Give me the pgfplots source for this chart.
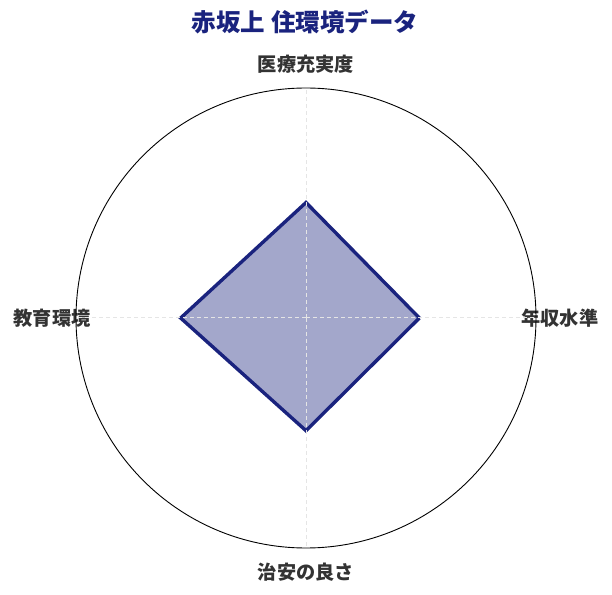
\documentclass[border=0pt]{standalone}
\usepackage{fontspec}
\setmainfont{Noto Sans CJK JP}
\usepackage{pgfplots}
\pgfplotsset{compat=1.18}
\usepgfplotslibrary{polar}
\definecolor{navy}{HTML}{1A237E}
\definecolor{lab}{HTML}{333333}
\begin{document}
\begin{tikzpicture}
\path (0,0) rectangle (612bp,595bp);
\node[font=\fontsize{24.5bp}{28bp}\selectfont\bfseries, text=navy] at (305bp,573bp) {赤坂上 住環境データ};
\begin{polaraxis}[
  at={(306bp,277bp)}, anchor=center,
  width=460bp, height=460bp, scale only axis,
  xmin=0, xmax=360, ymin=0, ymax=100,
  xtick={0,90,180,270}, xticklabels={},
  ytick=\empty,
  xmajorgrids, grid style={dash pattern=on 4bp off 3bp, color=black!10, line width=1bp},
  x axis line style={black, line width=0.9bp},
  y axis line style={draw=none},
  major tick length=0pt,
  axis on top, clip=false,
]
\addplot[draw=navy, line width=3.4bp, fill=navy, fill opacity=0.4, line join=miter]
  coordinates {(0,49.3) (90,50.2) (180,54.5) (270,49.0) (0,49.3)};
\begin{scope}[every node/.style={font=\fontsize{19.2bp}{23bp}\selectfont\bfseries, text=lab}]
\node at (axis cs:0,110.4) {年収水準};
\node at (axis cs:90,110.4) {医療充実度};
\node at (axis cs:180,110.4) {教育環境};
\node at (axis cs:270,110.4) {治安の良さ};
\end{scope}
\end{polaraxis}
\end{tikzpicture}
\end{document}
